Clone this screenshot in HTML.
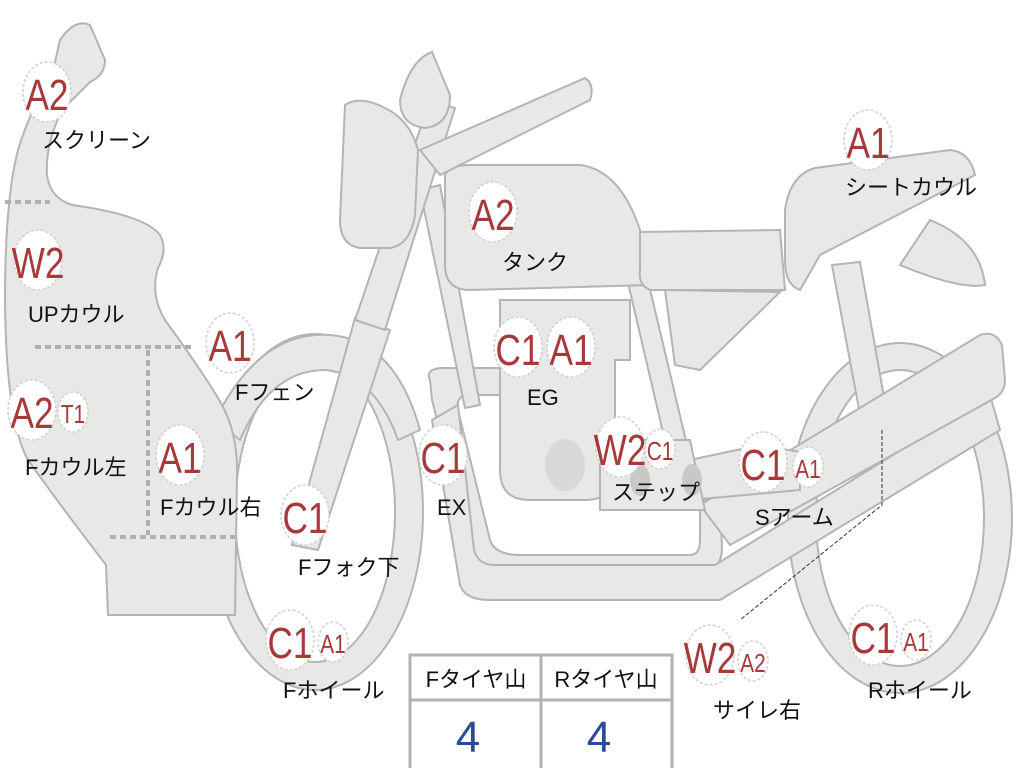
<!DOCTYPE html>
<html><head><meta charset="utf-8"><style>
html,body{margin:0;padding:0;background:#fff}
svg{display:block}
.p{fill:#e8e8e6;stroke:#b4b4b4;stroke-width:2}
.b{fill:#fff;stroke:#d0d0d0;stroke-width:1.5;stroke-dasharray:3 2}
.r{fill:#a8393a;font-family:"Liberation Sans",sans-serif}
.l{fill:#111;font-family:"Liberation Sans","Noto Sans CJK JP",sans-serif;font-size:22px}
</style></head><body>
<svg width="1024" height="768" viewBox="0 0 1024 768" xmlns="http://www.w3.org/2000/svg">
<!-- rear wheel -->
<ellipse class="p" cx="900" cy="518" rx="112" ry="175"/>
<ellipse cx="900" cy="518" rx="84" ry="148" fill="#fff" stroke="#b4b4b4" stroke-width="2"/>
<!-- front wheel -->
<ellipse class="p" cx="315" cy="512" rx="108" ry="178"/>
<ellipse cx="315" cy="512" rx="80" ry="150" fill="#fff" stroke="#b4b4b4" stroke-width="2"/>
<!-- seat stay -->
<path class="p" d="M832,265 L860,262 L888,420 L862,425 Z"/>
<!-- rear fender -->
<path class="p" d="M930,220 Q980,240 985,285 Q960,290 900,265 Z"/>
<!-- exhaust pipes -->
<path class="p" d="M430,380 Q425,370 440,368 L530,368 L530,395 L470,395 Q455,395 458,410 L490,540 Q495,555 520,555 L690,555 Q700,555 700,540 L700,500 L720,500 L722,548 Q722,570 700,575 L510,575 Q480,575 470,550 L432,400 Z"/>
<path class="p" d="M432,420 L460,585 Q465,600 490,600 L720,600 L1000,430 L990,395 L715,565 L495,565 Q478,565 474,550 L458,405 Z"/>
<!-- swingarm / muffler -->
<path class="p" d="M700,505 L980,335 Q995,330 1002,345 L1005,380 Q1005,392 995,398 L730,545 Z"/>
<path class="p" d="M690,460 L760,445 L800,452 L800,490 L690,500 Z"/>
<!-- frame -->
<path class="p" d="M420,190 L440,185 L480,405 L465,408 Z"/>
<path class="p" d="M625,270 L645,268 L700,500 L680,505 Z"/>
<!-- engine -->
<path class="p" d="M500,300 L630,300 L630,360 L615,360 L615,470 Q615,500 585,500 L530,500 Q500,500 500,470 Z"/>
<ellipse cx="565" cy="465" rx="20" ry="26" fill="#d8d8d8"/>
<path class="p" d="M600,440 L690,440 L705,510 L600,510 Z"/>
<ellipse cx="640" cy="480" rx="10" ry="16" fill="#c8c8c8"/>
<ellipse cx="692" cy="480" rx="10" ry="16" fill="#c8c8c8"/>
<!-- tank -->
<path class="p" d="M445,175 Q450,165 470,165 L580,165 Q620,170 640,230 L650,285 L470,290 Q445,290 445,265 Z"/>
<!-- seat -->
<path class="p" d="M640,232 L780,230 L785,290 L650,290 Q638,285 640,270 Z"/>
<path class="p" d="M665,290 L780,292 L700,370 L675,365 Z"/>
<!-- seat cowl -->
<path class="p" d="M785,210 Q790,175 815,168 L950,150 Q970,152 975,175 L820,255 L800,290 Q785,285 785,260 Z"/>
<!-- front fender -->
<path class="p" d="M215,420 Q260,330 330,335 Q395,340 420,430 L398,440 Q375,375 325,370 Q270,370 240,440 Z"/>
<!-- fork -->
<path class="p" d="M292,545 L355,318 L390,330 L318,550 Z"/>
<path class="p" d="M355,320 L430,100 L455,108 L385,330 Z"/>
<!-- handlebar -->
<path class="p" d="M420,150 L585,78 Q595,85 590,100 L440,175 Z"/>
<!-- headlight -->
<path class="p" d="M345,105 Q360,95 385,108 Q410,120 418,150 L415,215 Q410,245 390,248 L360,248 Q340,245 340,220 Z"/>
<path class="p" d="M400,100 Q410,60 432,52 L450,95 Q450,125 425,128 Q400,125 400,100 Z"/>
<!-- front cowl -->
<path class="p" d="M60,40 Q75,18 90,25 L105,60 Q105,75 90,82 L62,110 Q45,145 47,175 Q50,198 72,205 Q145,215 160,235 Q168,250 158,268 Q150,295 165,320 Q205,375 222,405 Q238,435 237,475 L235,615 L108,615 L106,565 Q60,505 28,460 Q6,420 5,300 Q5,200 18,150 Q30,110 52,75 Z"/>
<!-- dotted division lines -->
<g stroke="#b0b0b4" stroke-width="4" stroke-dasharray="6 4" fill="none">
<path d="M5,202 H50"/><path d="M35,347 H192"/><path d="M148,350 V535"/><path d="M110,537 H235"/>
</g>
<path d="M882,430 V505 L740,620" fill="none" stroke="#333" stroke-width="1" stroke-dasharray="4 2"/>
<!-- badges -->
<g>
<ellipse class="b" cx="47" cy="92" rx="24" ry="30"/><text class="r" x="47" y="110" font-size="44" text-anchor="middle" transform="translate(47 0) scale(0.8 1) translate(-47 0)">A2</text>
<ellipse class="b" cx="38" cy="260" rx="24" ry="30"/><text class="r" x="38" y="278" font-size="44" text-anchor="middle" transform="translate(38 0) scale(0.8 1) translate(-38 0)">W2</text>
<ellipse class="b" cx="32" cy="410" rx="24" ry="30"/><text class="r" x="32" y="428" font-size="44" text-anchor="middle" transform="translate(32 0) scale(0.8 1) translate(-32 0)">A2</text>
<ellipse class="b" cx="73" cy="412" rx="15" ry="20"/><text class="r" x="73" y="423" font-size="26" text-anchor="middle" transform="translate(73 0) scale(0.8 1) translate(-73 0)">T1</text>
<ellipse class="b" cx="180" cy="455" rx="24" ry="30"/><text class="r" x="180" y="473" font-size="44" text-anchor="middle" transform="translate(180 0) scale(0.8 1) translate(-180 0)">A1</text>
<ellipse class="b" cx="230" cy="343" rx="24" ry="30"/><text class="r" x="230" y="361" font-size="44" text-anchor="middle" transform="translate(230 0) scale(0.8 1) translate(-230 0)">A1</text>
<ellipse class="b" cx="305" cy="515" rx="24" ry="30"/><text class="r" x="305" y="533" font-size="44" text-anchor="middle" transform="translate(305 0) scale(0.8 1) translate(-305 0)">C1</text>
<ellipse class="b" cx="290" cy="640" rx="24" ry="30"/><text class="r" x="290" y="658" font-size="44" text-anchor="middle" transform="translate(290 0) scale(0.8 1) translate(-290 0)">C1</text>
<ellipse class="b" cx="333" cy="642" rx="15" ry="20"/><text class="r" x="333" y="653" font-size="26" text-anchor="middle" transform="translate(333 0) scale(0.8 1) translate(-333 0)">A1</text>
<ellipse class="b" cx="443" cy="455" rx="24" ry="30"/><text class="r" x="443" y="473" font-size="44" text-anchor="middle" transform="translate(443 0) scale(0.8 1) translate(-443 0)">C1</text>
<ellipse class="b" cx="493" cy="212" rx="24" ry="30"/><text class="r" x="493" y="230" font-size="44" text-anchor="middle" transform="translate(493 0) scale(0.8 1) translate(-493 0)">A2</text>
<ellipse class="b" cx="518" cy="347" rx="24" ry="30"/><text class="r" x="518" y="365" font-size="44" text-anchor="middle" transform="translate(518 0) scale(0.8 1) translate(-518 0)">C1</text>
<ellipse class="b" cx="571" cy="347" rx="24" ry="30"/><text class="r" x="571" y="365" font-size="44" text-anchor="middle" transform="translate(571 0) scale(0.8 1) translate(-571 0)">A1</text>
<ellipse class="b" cx="620" cy="447" rx="24" ry="30"/><text class="r" x="620" y="465" font-size="44" text-anchor="middle" transform="translate(620 0) scale(0.8 1) translate(-620 0)">W2</text>
<ellipse class="b" cx="660" cy="449" rx="15" ry="20"/><text class="r" x="660" y="460" font-size="26" text-anchor="middle" transform="translate(660 0) scale(0.8 1) translate(-660 0)">C1</text>
<ellipse class="b" cx="763" cy="462" rx="24" ry="30"/><text class="r" x="763" y="480" font-size="44" text-anchor="middle" transform="translate(763 0) scale(0.8 1) translate(-763 0)">C1</text>
<ellipse class="b" cx="808" cy="467" rx="15" ry="20"/><text class="r" x="808" y="478" font-size="26" text-anchor="middle" transform="translate(808 0) scale(0.8 1) translate(-808 0)">A1</text>
<ellipse class="b" cx="868" cy="140" rx="24" ry="30"/><text class="r" x="868" y="158" font-size="44" text-anchor="middle" transform="translate(868 0) scale(0.8 1) translate(-868 0)">A1</text>
<ellipse class="b" cx="710" cy="655" rx="24" ry="30"/><text class="r" x="710" y="673" font-size="44" text-anchor="middle" transform="translate(710 0) scale(0.8 1) translate(-710 0)">W2</text>
<ellipse class="b" cx="753" cy="661" rx="15" ry="20"/><text class="r" x="753" y="672" font-size="26" text-anchor="middle" transform="translate(753 0) scale(0.8 1) translate(-753 0)">A2</text>
<ellipse class="b" cx="873" cy="635" rx="24" ry="30"/><text class="r" x="873" y="653" font-size="44" text-anchor="middle" transform="translate(873 0) scale(0.8 1) translate(-873 0)">C1</text>
<ellipse class="b" cx="916" cy="640" rx="15" ry="20"/><text class="r" x="916" y="651" font-size="26" text-anchor="middle" transform="translate(916 0) scale(0.8 1) translate(-916 0)">A1</text>
</g>
<!-- labels -->
<text class="l" x="42" y="148">スクリーン</text>
<text class="l" x="28" y="322">UPカウル</text>
<text class="l" x="25" y="475">Fカウル左</text>
<text class="l" x="160" y="515">Fカウル右</text>
<text class="l" x="235" y="400">Fフェン</text>
<text class="l" x="298" y="575">Fフォク下</text>
<text class="l" x="283" y="698">Fホイール</text>
<text class="l" x="437" y="515">EX</text>
<text class="l" x="502" y="270">タンク</text>
<text class="l" x="527" y="405">EG</text>
<text class="l" x="612" y="500">ステップ</text>
<text class="l" x="755" y="525">Sアーム</text>
<text class="l" x="845" y="195">シートカウル</text>
<text class="l" x="713" y="718">サイレ右</text>
<text class="l" x="868" y="698">Rホイール</text>
<!-- table -->
<rect x="410" y="655" width="262" height="115" fill="#fff" stroke="#b0b2b8" stroke-width="3"/>
<line x1="410" y1="700" x2="672" y2="700" stroke="#b0b2b8" stroke-width="3"/>
<line x1="541" y1="655" x2="541" y2="768" stroke="#b0b2b8" stroke-width="3"/>
<text class="l" x="476" y="687" text-anchor="middle">Fタイヤ山</text>
<text class="l" x="606" y="687" text-anchor="middle">Rタイヤ山</text>
<text x="468" y="752" font-size="44" fill="#2a4a9a" text-anchor="middle" font-family="Liberation Sans,sans-serif">4</text>
<text x="599" y="752" font-size="44" fill="#2a4a9a" text-anchor="middle" font-family="Liberation Sans,sans-serif">4</text>
</svg>
</body></html>
